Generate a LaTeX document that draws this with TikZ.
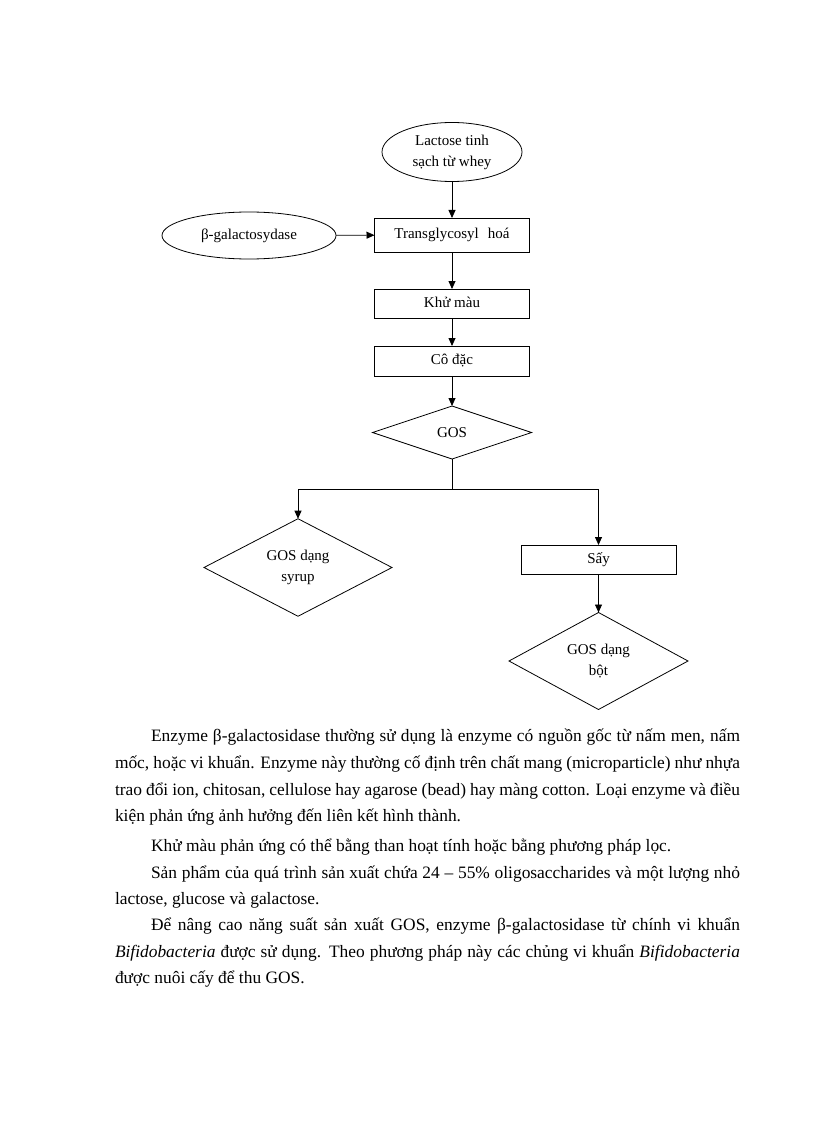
\documentclass[tikz,border=0pt]{standalone}
\usepackage{fontspec}
\setmainfont{Liberation Serif}
\usetikzlibrary{shapes.geometric,arrows.meta}
\begin{document}
\begin{tikzpicture}[x=1pt,y=-1pt,
  every node/.style={inner sep=0pt, outer sep=0pt},
  chart/.style={font=\fontsize{15}{21}\selectfont, align=center},
  procbox/.style={chart, draw, line width=0.8pt, rectangle, minimum width=155pt, text height=10.5pt, text depth=3pt},
  ell/.style={chart, draw, line width=0.8pt, ellipse},
  dia/.style={chart, draw, line width=0.8pt, diamond},
  arr/.style={line width=0.8pt, -{Triangle[length=8pt,width=7pt]}},
  plain/.style={line width=0.8pt},
  body/.style={font=\fontsize{17.4}{26}\selectfont, anchor=base west}
]
\useasboundingbox (0,0) rectangle (816,1123);

% flowchart
\node[ell, minimum width=140pt, minimum height=59pt] (lac) at (452,152) {Lactose tinh\\sạch từ whey};
\node[procbox, minimum height=34pt] (trans) at (452,235) {Transglycosyl\hspace{9pt}hoá};
\node[ell, minimum width=174pt, minimum height=47pt] (beta) at (249,235.5) {β-galactosydase};
\node[procbox, minimum height=29pt] (khu) at (452,303.5) {Khử màu};
\node[procbox, minimum height=30pt] (co) at (452,361) {Cô đặc};
\node[dia, minimum width=159pt, minimum height=53pt] (gos) at (452,432.5) {GOS};
\node[dia, minimum width=188pt, minimum height=97pt] (syr) at (298,567.5) {GOS dạng\\syrup};
\node[procbox, minimum height=29pt] (say) at (598.5,559.5) {Sấy};
\node[dia, minimum width=179pt, minimum height=97pt] (bot) at (598.5,661) {GOS dạng\\bột};
\coordinate (j) at (452,489);

\draw[arr] (lac) -- (trans);
\draw[arr] (beta) -- (trans);
\draw[arr] (trans) -- (khu);
\draw[arr] (khu) -- (co);
\draw[arr] (co) -- (gos);
\draw[plain] (gos.south) -- (j);
\draw[arr] (j) -| (syr.north);
\draw[arr] (j) -| (say.north);
\draw[arr] (say) -- (bot);

% body text
\node[body] (l1) at (151,741.7) {\makebox[589pt][s]{Enzyme β-galactosidase thường sử dụng là enzyme có nguồn gốc từ nấm men, nấm}};
\node[body] (l2) at (115,768) {\makebox[625pt][s]{mốc, hoặc vi khuẩn. Enzyme này thường cố định trên chất mang (microparticle) như nhựa}};
\node[body] (l3) at (115,795) {\makebox[625pt][s]{trao đổi ion, chitosan, cellulose hay agarose (bead) hay màng cotton. Loại enzyme và điều}};
\node[body] (l4) at (115,821.7) {kiện phản ứng ảnh hưởng đến liên kết hình thành.};
\node[body] (l5) at (151,851) {Khử màu phản ứng có thể bằng than hoạt tính hoặc bằng phương pháp lọc.};
\node[body] (l6) at (151,878) {\makebox[589pt][s]{Sản phẩm của quá trình sản xuất chứa 24 – 55\% oligosaccharides và một lượng nhỏ}};
\node[body] (l7) at (115,904) {lactose, glucose và galactose.};
\node[body] (l8) at (151,930) {\makebox[589pt][s]{Để nâng cao năng suất sản xuất GOS, enzyme β-galactosidase từ chính vi khuẩn}};
\node[body] (l9) at (115,957) {\makebox[625pt][s]{\textit{Bifidobacteria} được sử dụng. Theo phương pháp này các chủng vi khuẩn \textit{Bifidobacteria}}};
\node[body] (l10) at (115,983) {được nuôi cấy để thu GOS.};
\end{tikzpicture}
\end{document}
